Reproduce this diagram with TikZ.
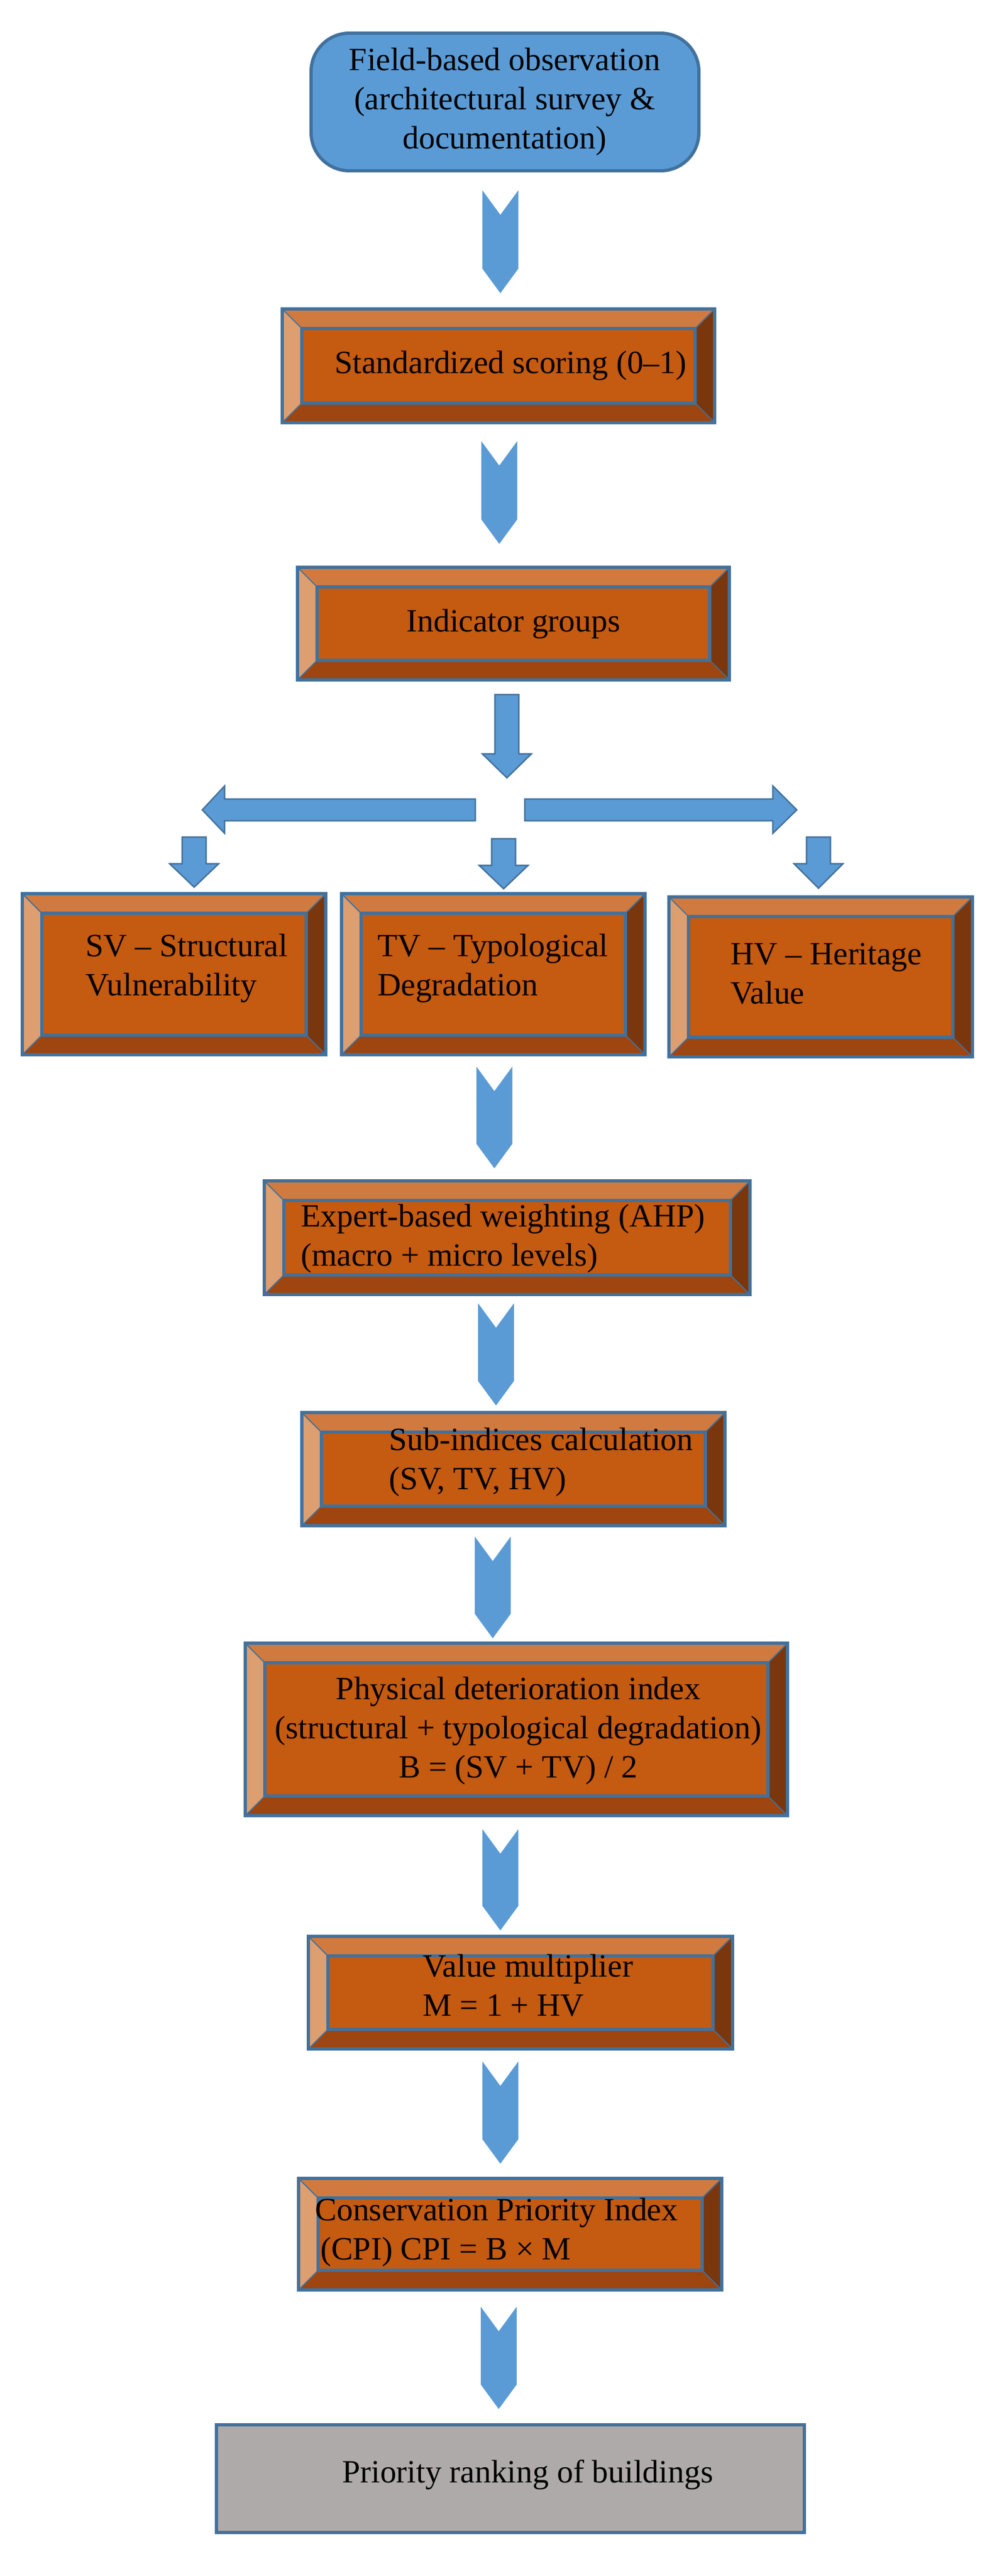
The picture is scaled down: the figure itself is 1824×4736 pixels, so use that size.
\documentclass[tikz,border=0pt]{standalone}
\usepackage{fontspec}
\setmainfont{Liberation Serif}
\definecolor{bblue}{HTML}{5B9BD5}
\definecolor{bline}{HTML}{41719C}
\definecolor{omid}{HTML}{C55A11}
\definecolor{otop}{HTML}{D07A40}
\definecolor{oleft}{HTML}{DD9E70}
\definecolor{obot}{HTML}{9E4510}
\definecolor{oright}{HTML}{7A370D}
\definecolor{pgrey}{HTML}{AEAAAA}
\tikzset{
  txt/.style={font=\fontsize{34}{41}\selectfont, inner sep=0pt, text=black},
  edge/.style={draw=bline, line width=3.4pt, line join=miter},
  arr/.style={fill=bblue, draw=bline, line width=1.5pt},
  chev/.style={fill=bblue, draw=none},
}
% bevel box: name, x1, y1, x2, y2
\newcommand{\bevbox}[5]{%
  \fill[oleft] (#2,#3) -- ({#2+36},{#3+36}) -- ({#2+36},{#5-36}) -- (#2,#5) -- cycle;
  \fill[otop] (#2,#3) -- (#4,#3) -- ({#4-36},{#3+36}) -- ({#2+36},{#3+36}) -- cycle;
  \fill[oright] (#4,#3) -- (#4,#5) -- ({#4-36},{#5-36}) -- ({#4-36},{#3+36}) -- cycle;
  \fill[obot] (#2,#5) -- (#4,#5) -- ({#4-36},{#5-36}) -- ({#2+36},{#5-36}) -- cycle;
  \draw[bline, line width=1.2pt] (#2,#3) -- ({#2+36},{#3+36}) (#4,#3) -- ({#4-36},{#3+36})
       (#2,#5) -- ({#2+36},{#5-36}) (#4,#5) -- ({#4-36},{#5-36});
  \draw[edge, fill=omid] ({#2+36},{#3+36}) rectangle ({#4-36},{#5-36});
  \node[draw=bline, line width=3.4pt, inner sep=0pt, fit={(#2,#3) (#4,#5)}] (#1) {};
}
% chevron: centre x, y1, y2
\newcommand{\chevarr}[3]{%
  \fill[chev] ({#1-33},#2) -- (#1,{#2+45}) -- ({#1+33},#2) -- ({#1+33},{#3-45}) -- (#1,#3) -- ({#1-33},{#3-45}) -- cycle;
}
% plain down arrow: centre x, y1, y2, head start y, shaft half, head half
\newcommand{\downarr}[6]{%
  \filldraw[arr] ({#1-#5},#2) -- ({#1+#5},#2) -- ({#1+#5},#4) -- ({#1+#6},#4) -- (#1,#3)
    -- ({#1-#6},#4) -- ({#1-#5},#4) -- cycle;
}
\usetikzlibrary{fit}
\begin{document}
\begin{tikzpicture}[x=0.02cm, y=-0.02cm]
\useasboundingbox (0,0) rectangle (1824,4736);
% 1 field
\draw[edge, fill=bblue, rounded corners=40] (572,61) rectangle (1285,314);
\node[inner sep=0pt, fit={(572,61) (1285,314)}] (field) {};
\node[txt, align=center] (fieldt) at (928,187) {Field-based observation\\(architectural survey \&\\documentation)};
\chevarr{920}{350}{539}
% 2 standardized
\bevbox{std}{519}{568}{1314}{777}
\node[txt] (stdt) at (939,672) {Standardized scoring (0--1)};
\chevarr{918}{811}{1000}
% 3 indicator
\bevbox{ind}{547}{1043}{1341}{1250}
\node[txt] (indt) at (944,1147) {Indicator groups};
\downarr{932}{1277}{1430}{1386}{22}{45}
% horizontal arrows
\filldraw[arr] (874,1469) -- (874,1509) -- (413,1509) -- (413,1532) -- (372,1489) -- (413,1445) -- (413,1469) -- cycle;
\filldraw[arr] (965,1469) -- (965,1509) -- (1421,1509) -- (1421,1532) -- (1465,1489) -- (1421,1445) -- (1421,1469) -- cycle;
\downarr{357}{1539}{1631}{1588}{22}{45}
\downarr{926}{1542}{1634}{1591}{22}{45}
\downarr{1505}{1539}{1633}{1588}{22}{45}
% three boxes
\bevbox{sv}{41}{1643}{599}{1939}
\node[txt, align=left, anchor=west] (svt) at (157,1780) {SV -- Structural\\Vulnerability};
\bevbox{tv}{628}{1643}{1186}{1939}
\node[txt, align=left, anchor=west] (tvt) at (694,1780) {TV -- Typological\\Degradation};
\bevbox{hv}{1230}{1649}{1788}{1943}
\node[txt, align=left, anchor=west] (hvt) at (1343,1790) {HV -- Heritage\\Value};
\chevarr{909}{1961}{2148}
% expert
\bevbox{exp}{486}{2171}{1379}{2380}
\node[txt, align=left, anchor=west] (expt) at (553,2277) {Expert-based weighting (AHP)\\(macro + micro levels)};
\chevarr{912}{2396}{2584}
% sub-indices
\bevbox{sub}{555}{2597}{1333}{2805}
\node[txt, align=left, anchor=west] (subt) at (715,2688) {Sub-indices calculation\\(SV, TV, HV)};
\chevarr{906}{2825}{3012}
% physical
\bevbox{phys}{451}{3021}{1448}{3338}
\node[txt, align=center] (physt) at (953,3182) {Physical deterioration index\\(structural + typological degradation)\\B = (SV + TV) / 2};
\chevarr{920}{3363}{3549}
% value
\bevbox{val}{567}{3560}{1347}{3767}
\node[txt, align=left, anchor=west] (valt) at (777,3650) {Value multiplier\\M = 1 + HV};
\chevarr{920}{3790}{3978}
% CPI
\bevbox{cpi}{549}{4005}{1327}{4210}
\node[txt, align=left, anchor=west] (cpit) at (579,4104) {Conservation Priority Index\\\hspace*{14\pgflinewidth}(CPI) CPI = B × M};
\chevarr{917}{4241}{4429}
% priority
\draw[edge, fill=pgrey] (398,4458) rectangle (1479,4656);
\node[inner sep=0pt, fit={(398,4458) (1479,4656)}] (prio) {};
\node[txt, anchor=west] (priot) at (629,4550) {Priority ranking of buildings};
\end{tikzpicture}
\end{document}
